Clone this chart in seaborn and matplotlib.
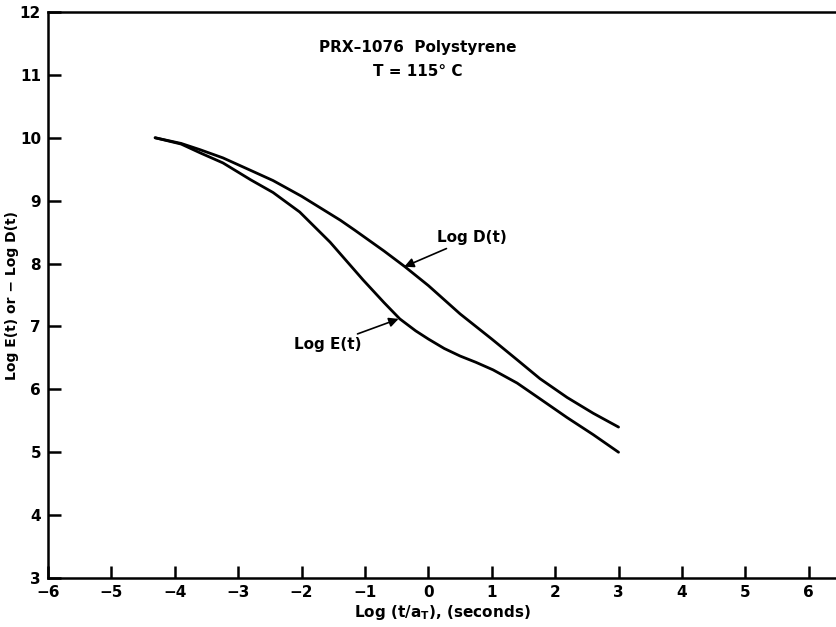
import numpy as np
import pandas as pd
import seaborn as sns
import matplotlib
matplotlib.use("Agg")
import matplotlib.pyplot as plt

# values
log_t_D = [-4.31, -3.9, -3.6, -3.24, -2.8, -2.45, -2.0, -1.39, -1.16, -0.7, -0.37, 0.0, 0.5, 1.0, 1.4, 1.76, 2.19, 2.6, 3.0]
log_D = [10.00, 9.91, 9.81, 9.68, 9.48, 9.32, 9.07, 8.69, 8.53, 8.20, 7.95, 7.65, 7.20, 6.80, 6.47, 6.17, 5.87, 5.62, 5.40]

log_t_E = [-4.31, -3.9, -3.6, -3.24, -2.8, -2.45, -2.03, -1.55, -1.03, -0.7, -0.45, -0.2, 0.0, 0.25, 0.5, 0.75, 1.02, 1.4, 1.76, 2.19, 2.6, 3.0]
log_E = [10.00, 9.90, 9.76, 9.60, 9.33, 9.13, 8.82, 8.34, 7.74, 7.38, 7.12, 6.93, 6.80, 6.65, 6.53, 6.43, 6.31, 6.10, 5.85, 5.55, 5.28, 5.00]

xticks = [-6, -5, -4, -3, -2, -1, 0, 1, 2, 3, 4, 5, 6]
yticks = [3, 4, 5, 6, 7, 8, 9, 10, 11, 12]

df = pd.concat([
    pd.DataFrame({"x": log_t_D, "y": log_D, "curve": "D"}),
    pd.DataFrame({"x": log_t_E, "y": log_E, "curve": "E"}),
])

sns.set_style("ticks")
plt.rcParams["font.family"] = ["DejaVu Sans"]
plt.rcParams["font.weight"] = "bold"
plt.rcParams["mathtext.fontset"] = "custom"
plt.rcParams["mathtext.rm"] = "DejaVu Sans:bold"
plt.rcParams["mathtext.it"] = "DejaVu Sans:bold"
for k in ["text.color", "axes.labelcolor", "xtick.color", "ytick.color"]:
    plt.rcParams[k] = "black"

fig = plt.figure(figsize=(8.36, 6.27), dpi=100)
ax = fig.add_axes([0.0574, 0.0781, 0.9426, 0.9028])

sns.lineplot(data=df, x="x", y="y", hue="curve", palette=["black", "black"],
             sort=False, estimator=None, linewidth=2.0, legend=False, ax=ax)

ax.set_xlim(-6, 6.43)
ax.set_ylim(3, 12)
ax.set_xticks(xticks)
ax.set_yticks(yticks)
ax.tick_params(direction="in", length=9, width=1.8, labelsize=11, pad=5)
for lab in ax.get_xticklabels() + ax.get_yticklabels():
    lab.set_fontweight("bold")

for s in ["left", "bottom", "top"]:
    ax.spines[s].set_linewidth(1.8)
    ax.spines[s].set_color("black")
ax.spines["right"].set_visible(False)

ax.set_xlabel(r"Log (t/a$_\mathrm{T}$), (seconds)", fontsize=11, fontweight="bold", labelpad=2)
ax.set_ylabel("Log E(t) or \u2212 Log D(t)", fontsize=10, fontweight="bold")
ax.yaxis.set_label_coords(-0.037, 0.5)

ax.text(-0.16, 11.44, "PRX\u20131076  Polystyrene", ha="center", va="center", fontsize=11, fontweight="bold")
ax.text(-0.16, 11.06, "T = 115\u00b0 C", ha="center", va="center", fontsize=11, fontweight="bold")

arrow = dict(arrowstyle="-|>", color="black", lw=1.2, mutation_scale=14, shrinkA=0, shrinkB=0)
ax.annotate("Log D(t)", xy=(-0.38, 7.95), xytext=(0.13, 8.41), ha="left", va="center",
            fontsize=11, fontweight="bold", arrowprops=arrow)
ax.annotate("Log E(t)", xy=(-0.47, 7.12), xytext=(-1.05, 6.71), ha="right", va="center",
            fontsize=11, fontweight="bold", arrowprops=arrow)

fig.savefig("out.png", dpi=100)
